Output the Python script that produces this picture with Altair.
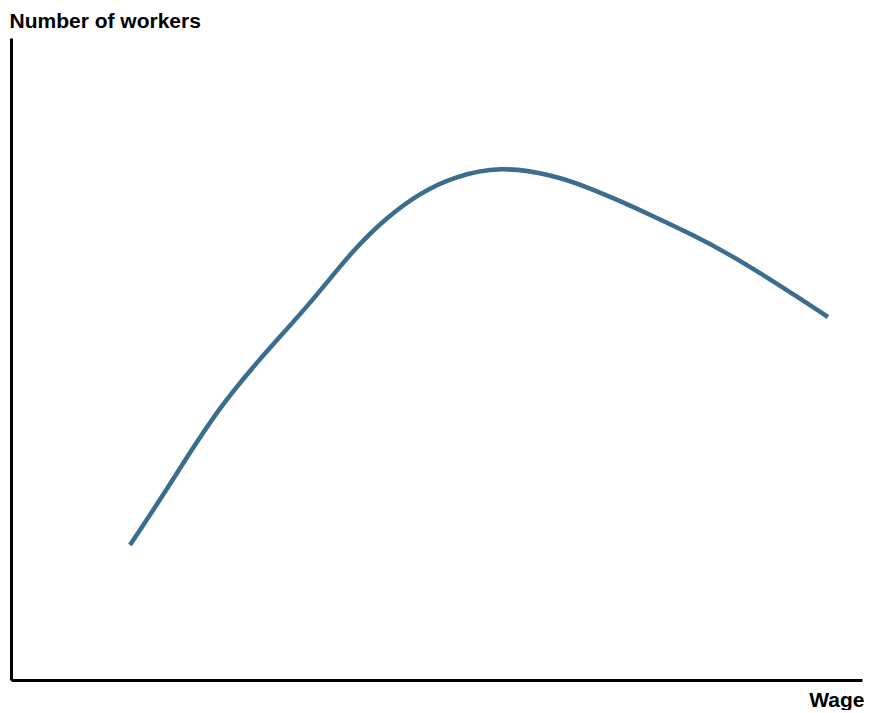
import altair as alt
import pandas as pd

wage = [119, 149, 176, 209, 242, 266, 302, 342, 376, 409, 442, 489, 542, 576, 609, 642, 682, 716, 749, 782, 817]
workers = [135, 180, 223, 273, 313, 340, 380, 430, 463, 487, 503, 514, 505, 493, 479, 464, 445, 427, 407, 386, 363]

df = pd.DataFrame({"wage": wage, "workers": workers})

FONT = "Liberation Sans"

chart = alt.Chart(df).mark_line(
    color="#3d6d8e", strokeWidth=4.5, interpolate="basis"
).encode(
    x=alt.X("wage:Q", scale=alt.Scale(domain=[0, 851], nice=False, zero=False),
            axis=alt.Axis(title="Wage", labels=False, ticks=False, grid=False,
                          domainColor="black", domainWidth=3,
                          titleFont=FONT, titleFontSize=21, titleFontWeight="bold",
                          titleColor="black", titleAlign="right", titleBaseline="alphabetic",
                          titleX=853, titleY=26)),
    y=alt.Y("workers:Q", scale=alt.Scale(domain=[0, 642], nice=False, zero=False),
            axis=alt.Axis(title="Number of workers", labels=False, ticks=False, grid=False,
                          domainColor="black", domainWidth=3,
                          titleFont=FONT, titleFontSize=21, titleFontWeight="bold",
                          titleColor="black", titleAngle=0, titleAlign="left",
                          titleBaseline="alphabetic", titleX=-2, titleY=-11)),
).properties(
    width=851, height=642,
    autosize=alt.AutoSizeParams(type="none"),
    padding={"left": 3, "top": 30, "right": 3, "bottom": 30},
).configure_view(stroke=None)

chart.save("out.html", embed_options={"renderer": "svg", "actions": False})
